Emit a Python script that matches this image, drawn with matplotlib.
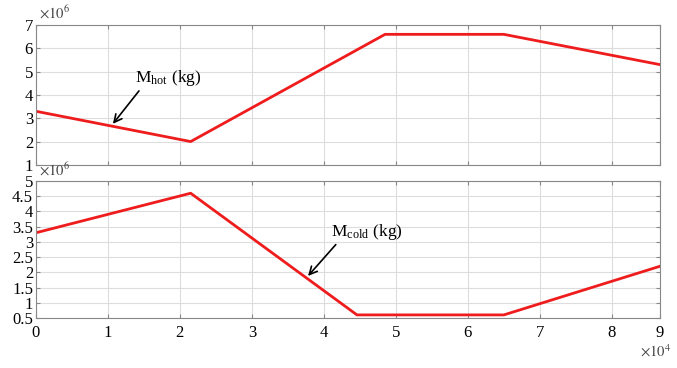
import numpy as np
import matplotlib
matplotlib.use("Agg")
import matplotlib.pyplot as plt

plt.rcParams['font.family'] = ['Liberation Serif', 'DejaVu Serif']
plt.rcParams['mathtext.fontset'] = 'stix'

# x positions (x10^4), the axis ends a little short of 9
x_end = 8.67
x_hot = [0, 2.15, 4.85, 6.5, x_end]
m_hot = [3.3, 2.0, 6.6, 6.6, 5.3]          # x10^6 kg
x_cold = [0, 2.15, 4.46, 6.5, x_end]
m_cold = [3.3, 4.6, 0.6, 0.6, 2.2]         # x10^6 kg

xticks = [0, 1, 2, 3, 4, 5, 6, 7, 8, x_end]
xlabels = ['0', '1', '2', '3', '4', '5', '6', '7', '8', '9']
hot_yticks = [1, 2, 3, 4, 5, 6, 7]
cold_yticks = [0.5, 1, 1.5, 2, 2.5, 3, 3.5, 4, 4.5, 5]
cold_ylabels = ['0.5', '1', '1.5', '2', '2.5', '3', '3.5', '4', '4.5', '5']

fig = plt.figure(figsize=(6.77, 3.68), dpi=100)
ax1 = fig.add_axes([0.053, 0.552, 0.922, 0.380])
ax2 = fig.add_axes([0.053, 0.136, 0.922, 0.372])

for ax in (ax1, ax2):
    ax.set_xlim(0, x_end)
    ax.set_xticks(xticks)
    ax.grid(True, color='#dddddd', lw=0.8)
    ax.tick_params(direction='in', top=True, right=True, length=3,
                   color='#888888', labelsize=12, pad=2)
    for s in ax.spines.values():
        s.set_color('#888888')
    ax.set_axisbelow(True)

ax1.plot(x_hot, m_hot, color='#ee1c1c', lw=2)
ax1.set_ylim(1, 7)
ax1.set_yticks(hot_yticks)
ax1.set_xticklabels([])

ax2.plot(x_cold, m_cold, color='#ee1c1c', lw=2)
ax2.set_ylim(0.5, 5)
ax2.set_yticks(cold_yticks)
ax2.set_yticklabels(cold_ylabels)
ax2.set_xticklabels(xlabels)
ax2.tick_params(axis='x', pad=5)

# exponent labels
fig.text(0.057, 0.95, r'$\times10^6$', fontsize=10.5, color='#444444')
fig.text(0.057, 0.522, r'$\times10^6$', fontsize=10.5, color='#444444')
fig.text(0.945, 0.03, r'$\times10^4$', fontsize=10.5, color='#444444')

# annotations
arrow = dict(arrowstyle='->', color='black', lw=1.2, shrinkA=0, shrinkB=0,
             relpos=(0.1, 0), mutation_scale=14)
ax1.annotate(r'M$_{\mathregular{hot}}$ (kg)', xy=(1.07, 2.76), xytext=(1.37, 4.55),
             fontsize=12.5, arrowprops=arrow)
ax2.annotate(r'M$_{\mathregular{cold}}$ (kg)', xy=(3.78, 1.88), xytext=(4.1, 3.2),
             fontsize=12.5, arrowprops=arrow)

fig.savefig('out.png', dpi=100)
